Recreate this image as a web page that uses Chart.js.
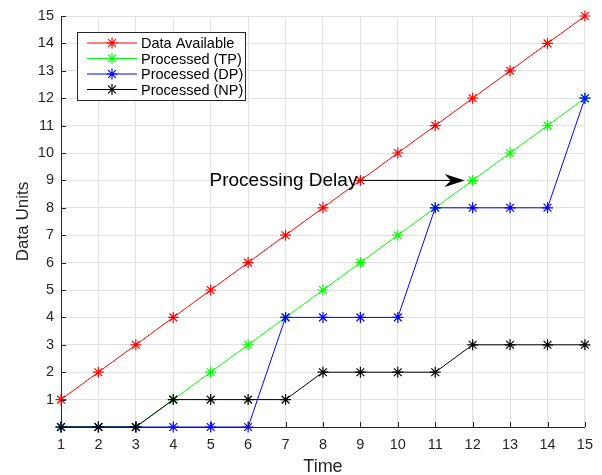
<!DOCTYPE html>
<html>
<head>
<meta charset="utf-8">
<script src="https://cdn.jsdelivr.net/npm/chart.js@4.4.1/dist/chart.umd.min.js"></script>
<style>
  html, body { margin: 0; padding: 0; background: #fff; }
  #wrap { width: 602px; height: 475px; position: relative; }
</style>
</head>
<body>
<div id="wrap"><canvas id="chart"></canvas></div>
<script>
'use strict';

/* ── Data ── */
const time = [1, 2, 3, 4, 5, 6, 7, 8, 9, 10, 11, 12, 13, 14, 15];
const dataAvailable = [1, 2, 3, 4, 5, 6, 7, 8, 9, 10, 11, 12, 13, 14, 15];
const processedTP = [0, 0, 0, 1, 2, 3, 4, 5, 6, 7, 8, 9, 10, 11, 12];
const processedDP = [0, 0, 0, 0, 0, 0, 4, 4, 4, 4, 8, 8, 8, 8, 12];
const processedNP = [0, 0, 0, 1, 1, 1, 1, 2, 2, 2, 2, 3, 3, 3, 3];
const seriesNames = ['Data Available', 'Processed (TP)', 'Processed (DP)', 'Processed (NP)'];
const seriesColors = ['#ff0000', '#00ff00', '#0000ff', '#000000'];
const yTicks = [1, 2, 3, 4, 5, 6, 7, 8, 9, 10, 11, 12, 13, 14, 15];

// annotation: arrow from (9, 9) to (12, 9)
const delayLabel = 'Processing Delay';
const delayFrom = [9, 9];
const delayTo = [12, 9];

const FONT = "'Liberation Sans', Arial, Helvetica, sans-serif";
const AXIS_COLOR = '#262626';
const GRID_COLOR = '#e1e1e1';

const toPoints = arr => time.map((t, i) => ({ x: t, y: arr[i] }));

function makeSet(idx, values, order) {
    return {
        label: seriesNames[idx],
        data: toPoints(values),
        borderColor: seriesColors[idx],
        backgroundColor: seriesColors[idx],
        borderWidth: 1,
        pointStyle: 'star',
        pointRadius: 5.5,
        pointBorderWidth: 1.2,
        pointBorderColor: seriesColors[idx],
        tension: 0,
        clip: false,
        order: order,
    };
}

/* ── Extras: ticks, axis titles, arrow annotation, legend ── */
const extras = {
    id: 'extras',
    afterDraw(chart) {
        const { ctx, chartArea: a, scales: { x, y } } = chart;
        ctx.save();

        // inward tick marks
        ctx.strokeStyle = AXIS_COLOR;
        ctx.lineWidth = 1;
        ctx.beginPath();
        time.forEach(t => {
            const px = Math.round(x.getPixelForValue(t)) + 0.5;
            ctx.moveTo(px, a.bottom);
            ctx.lineTo(px, a.bottom - 5);
        });
        yTicks.forEach(v => {
            const py = Math.round(y.getPixelForValue(v)) + 0.5;
            ctx.moveTo(a.left, py);
            ctx.lineTo(a.left + 5, py);
        });
        ctx.stroke();

        // axis titles
        ctx.fillStyle = AXIS_COLOR;
        ctx.textAlign = 'center';
        ctx.textBaseline = 'alphabetic';
        ctx.font = `18px ${FONT}`;
        ctx.fillText('Time', (a.left + a.right) / 2, 472);
        ctx.save();
        ctx.translate(28, (a.top + a.bottom) / 2);
        ctx.rotate(-Math.PI / 2);
        ctx.font = `17px ${FONT}`;
        ctx.fillText('Data Units', 0, 0);
        ctx.restore();

        // arrow annotation
        const x0 = x.getPixelForValue(delayFrom[0]);
        const yA = y.getPixelForValue(delayFrom[1]);
        const tip = x.getPixelForValue(delayTo[0]) - 8;
        ctx.strokeStyle = '#000';
        ctx.fillStyle = '#000';
        ctx.lineWidth = 1;
        ctx.beginPath();
        ctx.moveTo(x0, yA);
        ctx.lineTo(tip - 12, yA);
        ctx.stroke();
        ctx.beginPath();
        ctx.moveTo(tip, yA);
        ctx.lineTo(tip - 20, yA - 6.5);
        ctx.lineTo(tip - 14, yA);
        ctx.lineTo(tip - 20, yA + 6.5);
        ctx.closePath();
        ctx.fill();

        ctx.font = `19px ${FONT}`;
        ctx.textAlign = 'right';
        ctx.fillText(delayLabel, x0 - 3, yA + 6);

        // legend box
        const lx = 77.5, ly = 32.5, lw = 168, lh = 68;
        ctx.fillStyle = '#fff';
        ctx.fillRect(lx, ly, lw, lh);
        ctx.strokeStyle = AXIS_COLOR;
        ctx.strokeRect(lx, ly, lw, lh);
        ctx.font = `14.5px ${FONT}`;
        ctx.textAlign = 'left';
        ctx.textBaseline = 'middle';
        seriesNames.forEach((name, i) => {
            const rowY = 43 + i * 15.5;
            const c = seriesColors[i];
            ctx.strokeStyle = c;
            ctx.lineWidth = 1;
            ctx.beginPath();
            ctx.moveTo(87, rowY);
            ctx.lineTo(137, rowY);
            ctx.stroke();
            // asterisk marker
            const r = 5.5;
            ctx.lineWidth = 1.2;
            ctx.beginPath();
            for (let k = 0; k < 4; k++) {
                const ang = k * Math.PI / 4;
                ctx.moveTo(112 + r * Math.cos(ang), rowY + r * Math.sin(ang));
                ctx.lineTo(112 - r * Math.cos(ang), rowY - r * Math.sin(ang));
            }
            ctx.stroke();
            ctx.fillStyle = '#000';
            ctx.fillText(name, 141, rowY + 1);
        });

        ctx.restore();
    },
};

/* ── Chart ── */
new Chart(document.getElementById('chart'), {
    type: 'line',
    data: {
        datasets: [
            makeSet(0, dataAvailable, 4),
            makeSet(1, processedTP, 3),
            makeSet(2, processedDP, 2),
            makeSet(3, processedNP, 1),
        ],
    },
    options: {
        responsive: true,
        maintainAspectRatio: false,
        animation: false,
        layout: { padding: { left: 0, top: 16, right: 14, bottom: 0 } },
        plugins: {
            legend: { display: false },
            tooltip: { enabled: false },
        },
        scales: {
            x: {
                type: 'linear',
                min: 1,
                max: 15,
                afterFit: s => { s.height = 48; },
                afterBuildTicks: s => { s.ticks = time.map(v => ({ value: v })); },
                ticks: {
                    stepSize: 1,
                    color: AXIS_COLOR,
                    font: { family: FONT, size: 14.5 },
                    padding: 9,
                    maxRotation: 0,
                },
                grid: { color: GRID_COLOR, drawTicks: false },
                border: { color: AXIS_COLOR, width: 1 },
            },
            y: {
                type: 'linear',
                min: 0,
                max: 15,
                afterFit: s => { s.width = 61; },
                afterBuildTicks: s => { s.ticks = [0].concat(yTicks).map(v => ({ value: v })); },
                ticks: {
                    stepSize: 1,
                    color: AXIS_COLOR,
                    font: { family: FONT, size: 14.5 },
                    padding: 7,
                    callback: v => (v === 0 ? '' : v),
                },
                grid: { color: GRID_COLOR, drawTicks: false },
                border: { color: AXIS_COLOR, width: 1 },
            },
        },
    },
    plugins: [extras],
});
</script>
</body>
</html>
